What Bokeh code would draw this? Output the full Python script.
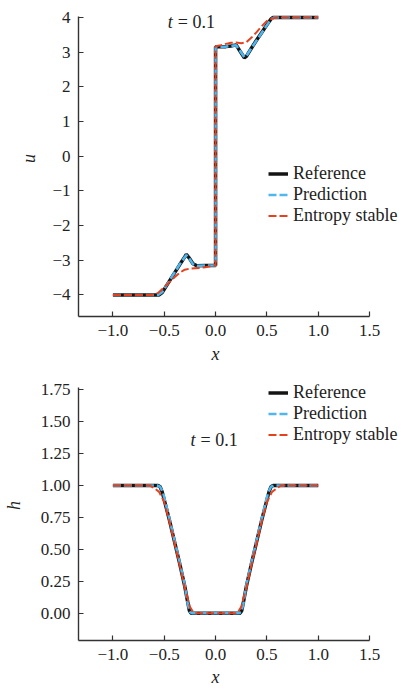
from bokeh.plotting import figure
from bokeh.layouts import column
from bokeh.models import Range1d, FixedTicker, Legend, LegendItem, Label, Title
from bokeh.embed import file_html
from bokeh.resources import INLINE

# ---------------- data: velocity u ----------------
u_ref_x = [-1.0, -0.55, -0.52, -0.45, -0.35, -0.30, -0.285, -0.26, -0.22, -0.18, -0.1, 0.0,
           0.0, 0.1, 0.15, 0.2, 0.24, 0.28, 0.30, 0.35, 0.40, 0.45, 0.50, 0.54, 0.56, 0.7, 1.0]
u_ref_y = [-4.0, -4.0, -3.93, -3.60, -3.13, -2.90, -2.83, -2.92, -3.10, -3.16, -3.15, -3.15,
           3.16, 3.16, 3.18, 3.21, 3.02, 2.84, 2.88, 3.12, 3.35, 3.57, 3.79, 3.96, 4.0, 4.0, 4.0]

u_pred_x = [-1.0, -0.56, -0.52, -0.45, -0.35, -0.30, -0.285, -0.26, -0.22, -0.18, -0.1, 0.0,
            0.0, 0.1, 0.15, 0.2, 0.24, 0.28, 0.30, 0.35, 0.40, 0.45, 0.50, 0.54, 0.57, 0.7, 1.0]
u_pred_y = [-4.0, -4.0, -3.92, -3.59, -3.12, -2.91, -2.85, -2.93, -3.11, -3.16, -3.15, -3.15,
            3.15, 3.16, 3.18, 3.20, 3.03, 2.86, 2.89, 3.12, 3.34, 3.56, 3.78, 3.95, 4.0, 4.0, 4.0]

u_es_x = [-1.0, -0.62, -0.56, -0.50, -0.45, -0.40, -0.35, -0.30, -0.25, -0.20, -0.15, -0.10, -0.05, 0.0,
          0.0, 0.05, 0.10, 0.15, 0.20, 0.25, 0.30, 0.35, 0.40, 0.45, 0.50, 0.55, 0.60, 0.65, 1.0]
u_es_y = [-4.0, -4.0, -3.94, -3.78, -3.63, -3.49, -3.36, -3.27, -3.24, -3.23, -3.22, -3.20, -3.17, -3.15,
          3.17, 3.20, 3.24, 3.27, 3.28, 3.26, 3.29, 3.42, 3.58, 3.75, 3.90, 3.97, 4.0, 4.0, 4.0]

# ---------------- data: height h ----------------
h_ref_x = [-1.0, -0.56, -0.54, -0.52, -0.45, -0.40, -0.35, -0.30, -0.27, -0.255, -0.24,
           0.24, 0.255, 0.27, 0.30, 0.35, 0.40, 0.45, 0.52, 0.54, 0.56, 1.0]
h_ref_y = [1.0, 1.0, 0.99, 0.95, 0.73, 0.56, 0.39, 0.21, 0.08, 0.02, 0.0,
           0.0, 0.02, 0.08, 0.21, 0.39, 0.56, 0.73, 0.95, 0.99, 1.0, 1.0]

h_pred_x = [-1.0, -0.57, -0.54, -0.51, -0.45, -0.40, -0.35, -0.30, -0.27, -0.25, -0.23,
            0.23, 0.25, 0.27, 0.30, 0.35, 0.40, 0.45, 0.51, 0.54, 0.57, 1.0]
h_pred_y = [1.0, 1.0, 0.99, 0.94, 0.74, 0.57, 0.40, 0.22, 0.07, 0.01, 0.0,
            0.0, 0.01, 0.07, 0.22, 0.40, 0.57, 0.74, 0.94, 0.99, 1.0, 1.0]

h_es_x = [-1.0, -0.64, -0.60, -0.55, -0.50, -0.45, -0.40, -0.35, -0.30, -0.25, -0.22, -0.20,
          0.20, 0.22, 0.25, 0.30, 0.35, 0.40, 0.45, 0.50, 0.55, 0.60, 0.64, 1.0]
h_es_y = [1.0, 1.0, 0.98, 0.95, 0.87, 0.72, 0.55, 0.38, 0.20, 0.05, 0.01, 0.0,
          0.0, 0.01, 0.05, 0.20, 0.38, 0.55, 0.72, 0.87, 0.95, 0.98, 1.0, 1.0]

# ---------------- ticks ----------------
x_ticks = [-1.0, -0.5, 0.0, 0.5, 1.0, 1.5]
x_tick_labels = ["\u22121.0", "\u22120.5", "0.0", "0.5", "1.0", "1.5"]
u_ticks = [-4, -3, -2, -1, 0, 1, 2, 3, 4]
u_tick_labels = ["\u22124", "\u22123", "\u22122", "\u22121", "0", "1", "2", "3", "4"]
h_ticks = [0.0, 0.25, 0.5, 0.75, 1.0, 1.25, 1.5, 1.75]
h_tick_labels = ["0.00", "0.25", "0.50", "0.75", "1.00", "1.25", "1.50", "1.75"]

series_names = ["Reference", "Prediction", "Entropy stable"]

# axis extents (spines) and the (larger) drawing frames
X_AXIS = (-1.335, 1.5)
X_FRAME_END = 1.84
U_AXIS = (-4.62, 4.03)
U_FRAME_TOP = 4.49
H_AXIS = (-0.214, 1.77)
H_FRAME_TOP = 1.90

FONT = "Liberation Serif"
C_REF = "#141414"
C_PRED = "#4fb6ee"
C_ES = "#e4421f"
AX = "#333333"
TXT = "#222222"


def style(p, yt, yl, ylabel, ybounds, ylab_standoff, xlab_standoff):
    p.outline_line_color = None
    p.xgrid.visible = False
    p.ygrid.visible = False
    p.xaxis.ticker = FixedTicker(ticks=x_ticks)
    p.xaxis.major_label_overrides = {float(k): v for k, v in zip(x_ticks, x_tick_labels)}
    p.yaxis.ticker = FixedTicker(ticks=yt)
    p.yaxis.major_label_overrides = {float(k): v for k, v in zip(yt, yl)}
    p.xaxis.bounds = X_AXIS
    p.yaxis.bounds = ybounds
    for ax in (p.xaxis[0], p.yaxis[0]):
        ax.axis_line_color = AX
        ax.axis_line_width = 1.4
        ax.major_tick_line_color = AX
        ax.major_tick_line_width = 1.2
        ax.major_tick_in = 5
        ax.major_tick_out = 0
        ax.minor_tick_line_color = None
        ax.major_label_text_font = FONT
        ax.major_label_text_font_size = "17px"
        ax.major_label_text_color = TXT
        ax.axis_label_text_font = FONT
        ax.axis_label_text_font_size = "18px"
        ax.axis_label_text_font_style = "italic"
        ax.axis_label_text_color = TXT
    p.yaxis.axis_label = ylabel
    p.xaxis.axis_label = None
    p.xaxis.major_label_standoff = 8
    p.yaxis.major_label_standoff = 8
    p.yaxis.axis_label_standoff = ylab_standoff
    # x label placed under x = 0 (frame extends right of the spine)
    p.add_layout(Title(text="x", align="left", offset=133, standoff=xlab_standoff,
                       text_font=FONT, text_font_size="18px", text_font_style="italic",
                       text_color=TXT), "below")


def add_series(p, xs, ys):
    r1 = p.line(xs[0], ys[0], line_color=C_REF, line_width=3.5)
    r2 = p.line(xs[1], ys[1], line_color=C_PRED, line_width=2.6, line_dash="8 3")
    r3 = p.line(xs[2], ys[2], line_color=C_ES, line_width=2.0, line_dash="8 3")
    return [r1, r2, r3]


def add_legend(p, rs, loc):
    items = [LegendItem(label=n, renderers=[r]) for n, r in zip(series_names, rs)]
    lg = Legend(items=items, location=loc, padding=0, margin=0, spacing=0,
                glyph_width=20, glyph_height=21, label_height=21, label_standoff=5,
                label_text_font=FONT, label_text_font_size="18px", label_text_color=TXT,
                border_line_color=None, background_fill_alpha=0)
    p.add_layout(lg, "center")


def add_time(p, x, y):
    p.add_layout(Label(x=x, y=y, text="t", text_font=FONT, text_font_size="18px",
                       text_font_style="italic", text_baseline="middle", text_color=TXT))
    p.add_layout(Label(x=x, y=y, x_offset=10, text="= 0.1", text_font=FONT, text_font_size="18px",
                       text_baseline="middle", text_color=TXT))


# ---------------- top figure (u) ----------------
p1 = figure(width=404, height=370, output_backend="svg", toolbar_location=None,
            x_range=Range1d(X_AXIS[0], X_FRAME_END), y_range=Range1d(U_AXIS[0], U_FRAME_TOP),
            min_border_left=77, min_border_right=0, min_border_top=0, min_border_bottom=54)
style(p1, u_ticks, u_tick_labels, "u", U_AXIS, 10, 6)
r_u = add_series(p1, [u_ref_x, u_pred_x, u_es_x], [u_ref_y, u_pred_y, u_es_y])
add_legend(p1, r_u, (190, 90))
add_time(p1, -0.466, 3.856)

# ---------------- bottom figure (h) ----------------
p2 = figure(width=404, height=321, output_backend="svg", toolbar_location=None,
            x_range=Range1d(X_AXIS[0], X_FRAME_END), y_range=Range1d(H_AXIS[0], H_FRAME_TOP),
            min_border_left=77, min_border_right=0, min_border_top=0, min_border_bottom=51)
style(p2, h_ticks, h_tick_labels, "h", H_AXIS, 14, 4)
r_h = add_series(p2, [h_ref_x, h_pred_x, h_es_x], [h_ref_y, h_pred_y, h_es_y])
add_legend(p2, r_h, (190, 195))
add_time(p2, -0.243, 1.352)

layout = column(p1, p2, spacing=0)
open("out.html", "w").write(file_html(layout, INLINE))
